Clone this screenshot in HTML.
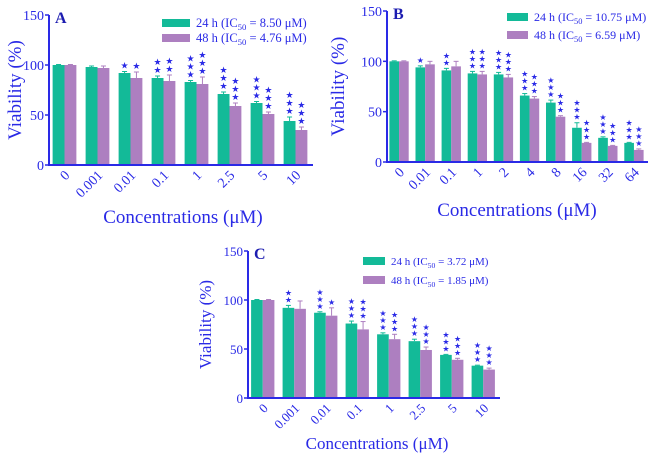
<!DOCTYPE html>
<html><head><meta charset="utf-8"><style>
body{margin:0;background:#fff}
svg{display:block;font-family:"Liberation Serif",serif}
</style></head><body>
<svg id="chart" width="650" height="453" viewBox="0 0 650 453"></svg>
<script>
const catsA = ["0","0.001","0.01","0.1","1","2.5","5","10"];
const a24 = [100,98,92,87,83,71,62,44];
const a48 = [100,97,87,84,81,59,51,35];
const a24err = [0.5,1,1.5,2,1.5,2,1.5,4];
const a48err = [0.5,2,6,6,7,3,2,3];
const a24stars = [0,0,1,2,3,3,3,3];
const a48stars = [0,0,1,2,3,3,3,3];

const catsB = ["0","0.01","0.1","1","2","4","8","16","32","64"];
const b24 = [100,94,91,88,87,66,59,34,24,19];
const b48 = [100,97,95,87,84,63,45,19,16,12];
const b24err = [0.5,1.5,2,2,2,2,2.5,5,1,0.5];
const b48err = [0.5,3,5,3,3,2,1,0.5,0.5,1];
const b24stars = [0,1,2,3,3,3,3,3,3,3];
const b48stars = [0,0,0,3,3,3,3,3,3,3];

const catsC = ["0","0.001","0.01","0.1","1","2.5","5","10"];
const c24 = [100,92,87,76,65,58,44,33];
const c48 = [100,91,84,70,60,49,39,29];
const c24err = [0.5,2.5,1,2.5,1.5,2,0.5,0.5];
const c48err = [0.5,8,8,8,5,3,1.5,1.5];
const c24stars = [0,2,3,3,3,3,3,3];
const c48stars = [0,0,1,3,3,3,3,3];

const yTicks = [0,50,100,150];
const NS="http://www.w3.org/2000/svg";
const svg=document.getElementById('chart');
const BLUE="#2a2ae6", GREEN="#13ba98", PURPLE="#ad7fc0";
function el(t,a,p){const e=document.createElementNS(NS,t);for(const k in a)e.setAttribute(k,a[k]);(p||svg).appendChild(e);return e;}

function panel(o){
  const g=el('g',{});
  
  
  const yS=v=>o.y0-(o.y0-o.y150)*v/150;
  const n=o.cats.length, gw=(o.x1-o.x0)/n;
  const bw=gw*o.bf;
  o.cats.forEach((c,i)=>{
    const cx=o.x0+gw*(i+0.5)-1;
    [[o.s24,o.e24,o.st24,GREEN,-1,'24h'],[o.s48,o.e48,o.st48,PURPLE,0,'48h']].forEach(([s,e,st,col,off,nm])=>{
      const x=cx+off*bw, v=s[i];
      const r=el('rect',{x:x,y:yS(v),width:bw,height:yS(0)-yS(v),fill:col},g);
      
      
      const ey=yS(v+e[i]);
      el('line',{x1:x+bw/2,x2:x+bw/2,y1:yS(v),y2:ey,stroke:col,'stroke-width':1},g);
      el('line',{x1:x+bw/2-2.5,x2:x+bw/2+2.5,y1:ey,y2:ey,stroke:col,'stroke-width':1},g);
      for(let k=0;k<st[i];k++){
        const t=el('text',{x:x+bw/2,y:ey-3-k*o.starGap,'text-anchor':'middle',fill:BLUE,'font-size':o.starSize},g);
        t.textContent='★';
        
        
      }
    });
    const tl=el('text',{x:cx+6,y:yS(0)+11,'text-anchor':'end',fill:BLUE,'font-size':o.tickSize,transform:`rotate(-45 ${cx+6} ${yS(0)+11})`},g);
    tl.textContent=c;
    
    
  });
  el('line',{x1:o.x0,x2:o.x0,y1:o.y150,y2:yS(0)+1,stroke:BLUE,'stroke-width':2},g);
  el('line',{x1:o.x0-1,x2:o.x1,y1:yS(0),y2:yS(0),stroke:BLUE,'stroke-width':2},g);
  yTicks.forEach(v=>{
    el('line',{x1:o.x0-4,x2:o.x0,y1:yS(v),y2:yS(v),stroke:BLUE,'stroke-width':1.5},g);
    const t=el('text',{x:o.x0-5,y:yS(v)+5,'text-anchor':'end',fill:BLUE,'font-size':o.tickSize},g);
    t.textContent=v;
    
    
  });
  const L=el('text',{x:o.x0+6,y:o.y150+8,fill:'#1c1cb0','font-size':16,'font-weight':'bold'},g);
  L.textContent=o.letter;
  
  
  const yc=(o.y150+yS(0))/2;
  const yt=el('text',{x:o.ytx,y:yc,'text-anchor':'middle',fill:BLUE,'font-size':o.titleSize,transform:`rotate(-90 ${o.ytx} ${yc})`},g);
  yt.textContent='Viability (%)';
  
  
  const xt=el('text',{x:o.xtx,y:o.xty,'text-anchor':'middle',fill:BLUE,'font-size':o.titleSize},g);
  xt.textContent='Concentrations (μM)';
  
  
  [[GREEN,'24 h (IC',o.ic24],[PURPLE,o.sp48,o.ic48]].forEach(([col,pre,ic],k)=>{
    const y=o.ly+k*o.lgap;
    el('rect',{x:o.lx,y:y,width:o.lw,height:8,fill:col},g);
    const t=el('text',{x:o.lx+o.lw+6,y:y+8,fill:BLUE,'font-size':o.legSize},g);
    
    
    t.innerHTML=pre+'<tspan font-size="'+(o.legSize*0.7)+'" dy="3">50</tspan><tspan dy="-3"> = '+ic+' μM)</tspan>';
  });
}
panel({letter:'A',cats:catsA,s24:a24,s48:a48,e24:a24err,e48:a48err,st24:a24stars,st48:a48stars,
  x0:49,x1:313,y0:165,y150:15,bf:0.36,tickSize:14,titleSize:19,starSize:9,starGap:8,
  ytx:21,xtx:183,xty:223,lx:162,lw:28,ly:19,lgap:15,legSize:12.5,sp48:'48 h  (IC',ic24:'8.50',ic48:'4.76'});
panel({letter:'B',cats:catsB,s24:b24,s48:b48,e24:b24err,e48:b48err,st24:b24stars,st48:b48stars,
  x0:387,x1:648,y0:162,y150:11,bf:0.37,tickSize:14,titleSize:19,starSize:8,starGap:7,
  ytx:344,xtx:517,xty:216,lx:507,lw:21,ly:13,lgap:18,legSize:12,sp48:'48 h (IC',ic24:'10.75',ic48:'6.59'});
panel({letter:'C',cats:catsC,s24:c24,s48:c48,e24:c24err,e48:c48err,st24:c24stars,st48:c48stars,
  x0:248,x1:500,y0:398,y150:251,bf:0.37,tickSize:13,titleSize:17,starSize:8,starGap:7,
  ytx:211,xtx:377,xty:449,lx:363,lw:22,ly:257,lgap:19,legSize:11,sp48:'48 h (IC',ic24:'3.72',ic48:'1.85'});
</script>
</body></html>
